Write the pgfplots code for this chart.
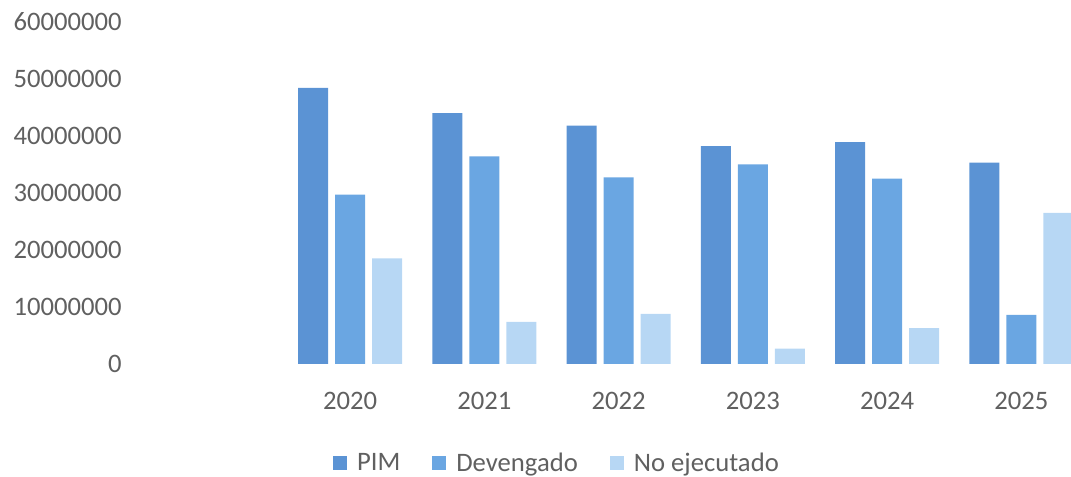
\documentclass[border=0pt]{standalone}
\usepackage{pgfplots}
\pgfplotsset{compat=1.18}
\usepackage{fontspec}
\setmainfont{Carlito}
\definecolor{pim}{HTML}{5B93D4}
\definecolor{dev}{HTML}{6AA6E2}
\definecolor{noej}{HTML}{B7D7F4}
\definecolor{txt}{HTML}{606060}
\begin{document}
\begin{tikzpicture}
\useasboundingbox (0,0) rectangle (803.25pt,357.75pt);
\begin{axis}[
  at={(212.25pt,84.75pt)}, anchor=south west,
  scale only axis, width=591pt, height=256.7pt,
  xmin=-0.5, xmax=5.369, ymin=0, ymax=60000000,
  scaled y ticks=false, scaled x ticks=false,
  axis line style={draw=none},
  tick style={draw=none}, major tick length=0pt,
  xtick={0,1,2,3,4,5},
  xticklabels={2020,2021,2022,2023,2024,2025},
  ytick={0,10000000,20000000,30000000,40000000,50000000,60000000},
  yticklabels={0,10000000,20000000,30000000,40000000,50000000,60000000},
  ticklabel style={font=\fontsize{20}{24}\selectfont, text=txt, inner sep=0pt},
  xticklabel style={anchor=center, yshift=-27.75pt},
  yticklabel style={anchor=east, xshift=-120.75pt},
  ybar, bar width=22.5pt,
  legend columns=3,
  legend image code/.code={\fill[#1] (0pt,-5.25pt) rectangle (10.5pt,5.25pt);},
  legend style={at={(0.0635,-0.289)}, anchor=west, draw=none, fill=none,
    inner sep=0pt, outer sep=0pt,
    font=\fontsize{20}{24}\selectfont, text=txt,
    nodes={inner sep=0pt},
    column sep=7.5pt,
    /tikz/every even column/.append style={column sep=24pt}},
]
\addplot[fill=pim, draw=none, bar shift=-27.75pt] coordinates {
  (0,48400000) (1,44000000) (2,41800000) (3,38200000) (4,38900000) (5,35300000)};
\addplot[fill=dev, draw=none, bar shift=0pt] coordinates {
  (0,29700000) (1,36400000) (2,32700000) (3,35000000) (4,32500000) (5,8600000)};
\addplot[fill=noej, draw=none, bar shift=27.75pt] coordinates {
  (0,18500000) (1,7400000) (2,8800000) (3,2700000) (4,6300000) (5,26500000)};
\legend{PIM, Devengado, No ejecutado}
\end{axis}
\end{tikzpicture}
\end{document}
